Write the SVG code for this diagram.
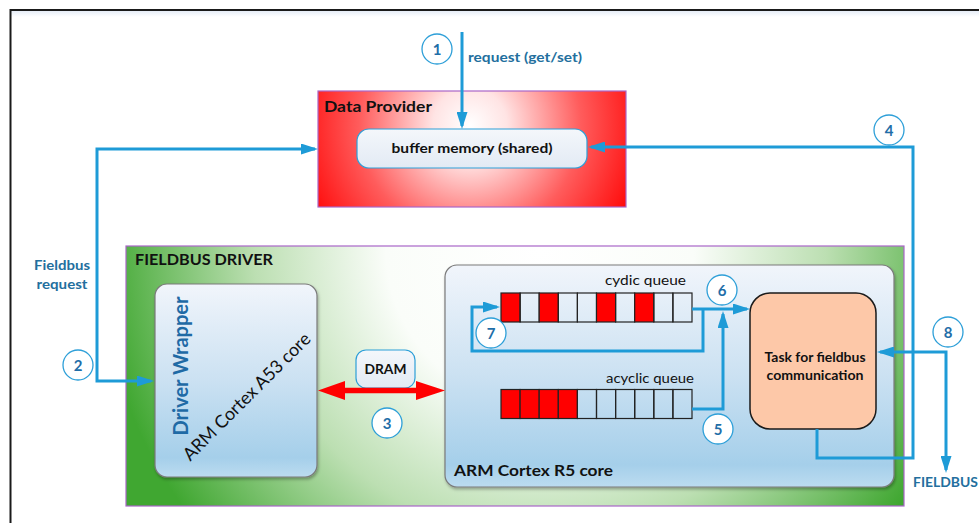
<svg xmlns="http://www.w3.org/2000/svg" width="979" height="523" viewBox="0 0 979 523">
  <defs>
    <style>
      .lbl { font-family: Lato, "Open Sans", "Liberation Sans", sans-serif; }
      .b { font-weight: bold; }
      .blk { fill: #111111; }
      .blu { fill: #236f9e; }
      .wire { fill: none; stroke: #1e9bd7; stroke-width: 3; }
      .num circle { fill: #ffffff; stroke: #2d9fd8; stroke-width: 1.3; }
      .num text { font-family: Lato, "Open Sans", "Liberation Sans", sans-serif; font-weight: bold; font-size: 15px; fill: #1f6ea8; text-anchor: middle; }
      .cell { stroke: #222222; stroke-width: 1.2; fill: none; }
      .cell.on { fill: #ff0000; }
    </style>
    <marker id="ah" viewBox="0 0 17 11" refX="14" refY="5.5" markerWidth="17" markerHeight="11" markerUnits="userSpaceOnUse" orient="auto-start-reverse">
      <path d="M0,0 L17,5.5 L0,11 z" fill="#1e9bd7"/>
    </marker>
    <radialGradient id="gProvider" gradientUnits="userSpaceOnUse" cx="470" cy="125" r="185">
      <stop offset="0" stop-color="#ffffff"/>
      <stop offset="0.2" stop-color="#ffe4e4"/>
      <stop offset="0.6" stop-color="#ff5c5c"/>
      <stop offset="1" stop-color="#ff0000"/>
    </radialGradient>
    <radialGradient id="gDriver" gradientUnits="userSpaceOnUse" cx="540" cy="250" r="440">
      <stop offset="0" stop-color="#ffffff"/>
      <stop offset="0.35" stop-color="#fafdf9"/>
      <stop offset="0.65" stop-color="#bcdfb2"/>
      <stop offset="1" stop-color="#40a731"/>
    </radialGradient>
    <linearGradient id="gCore" x1="0" y1="0" x2="0" y2="1">
      <stop offset="0" stop-color="#f1f5fb"/>
      <stop offset="0.5" stop-color="#cbe1f2"/>
      <stop offset="0.9" stop-color="#a5cfea"/>
      <stop offset="1" stop-color="#bcdcf0"/>
    </linearGradient>
    <linearGradient id="gPill" x1="0" y1="0" x2="0" y2="1">
      <stop offset="0" stop-color="#f4f7fb"/>
      <stop offset="1" stop-color="#e2eaf4"/>
    </linearGradient>
    <linearGradient id="gTopShade" x1="0" y1="0" x2="0" y2="1">
      <stop offset="0" stop-color="#e6edf7"/>
      <stop offset="1" stop-color="#ffffff"/>
    </linearGradient>
    <filter id="shadow" x="-5%" y="-5%" width="110%" height="115%">
      <feDropShadow dx="1" dy="2" stdDeviation="1.5" flood-color="#000000" flood-opacity="0.3"/>
    </filter>
  </defs>

  <!-- page -->
  <rect x="0" y="0" width="979" height="523" fill="#ffffff"/>
  <rect x="11" y="11" width="968" height="6" fill="url(#gTopShade)"/>
  <path d="M10.5,523 V10 H979" fill="none" stroke="#1a1a1a" stroke-width="2"/>

  <!-- Data Provider -->
  <g id="data-provider">
    <rect x="318" y="91" width="308" height="116" fill="url(#gProvider)" stroke="#a966c8" stroke-width="1.2"/>
    <text class="lbl b blk" x="324" y="112" font-size="15" textLength="108" lengthAdjust="spacingAndGlyphs">Data Provider</text>
  </g>
  <g id="buffer-memory">
    <rect x="357" y="129" width="230" height="39" rx="12" fill="url(#gPill)" stroke="#2d9fd8" stroke-width="1.2"/>
    <text class="lbl b blk" x="472" y="153" font-size="12.5" text-anchor="middle" textLength="161" lengthAdjust="spacingAndGlyphs">buffer memory (shared)</text>
  </g>

  <!-- Fieldbus driver container -->
  <g id="fieldbus-driver">
    <rect x="126" y="246" width="778" height="260" fill="url(#gDriver)" stroke="#a966c8" stroke-width="1.2"/>
    <text class="lbl b blk" x="135" y="265" font-size="15" textLength="138" lengthAdjust="spacingAndGlyphs">FIELDBUS DRIVER</text>
  </g>

  <g id="driver-wrapper">
    <rect x="155" y="284" width="162" height="193" rx="12" fill="url(#gCore)" stroke="#7a7a7a" stroke-width="1.2" filter="url(#shadow)"/>
    <text class="lbl b" fill="#1f6aa5" font-size="20" text-anchor="middle" transform="translate(188,366) rotate(-90)" textLength="139" lengthAdjust="spacingAndGlyphs">Driver Wrapper</text>
    <text class="lbl blk" font-size="18" text-anchor="middle" transform="translate(251,401) rotate(-45)" textLength="172" lengthAdjust="spacingAndGlyphs">ARM Cortex A53 core</text>
  </g>

  <g id="r5-core">
    <rect x="445" y="265" width="449" height="222" rx="12" fill="url(#gCore)" stroke="#7a7a7a" stroke-width="1.2" filter="url(#shadow)"/>
    <text class="lbl b blk" x="454" y="476" font-size="16" textLength="159" lengthAdjust="spacingAndGlyphs">ARM Cortex R5 core</text>
  </g>

  <g id="cyclic-queue">
    <text class="lbl blk" x="686" y="285" font-size="14" text-anchor="end" textLength="81" lengthAdjust="spacingAndGlyphs">cydic queue</text>
    <rect class="cell on" x="501" y="293" width="19.1" height="29"/>
    <rect class="cell" x="520.1" y="293" width="19.1" height="29"/>
    <rect class="cell on" x="539.2" y="293" width="19.1" height="29"/>
    <rect class="cell" x="558.3" y="293" width="19.1" height="29"/>
    <rect class="cell" x="577.4" y="293" width="19.1" height="29"/>
    <rect class="cell on" x="596.5" y="293" width="19.1" height="29"/>
    <rect class="cell" x="615.6" y="293" width="19.1" height="29"/>
    <rect class="cell on" x="634.7" y="293" width="19.1" height="29"/>
    <rect class="cell" x="653.8" y="293" width="19.1" height="29"/>
    <rect class="cell" x="672.9" y="293" width="19.1" height="29"/>
  </g>

  <g id="acyclic-queue">
    <text class="lbl blk" x="694" y="383" font-size="14" text-anchor="end" textLength="88" lengthAdjust="spacingAndGlyphs">acyclic queue</text>
    <rect class="cell on" x="501" y="389.5" width="19.1" height="29"/>
    <rect class="cell on" x="520.1" y="389.5" width="19.1" height="29"/>
    <rect class="cell on" x="539.2" y="389.5" width="19.1" height="29"/>
    <rect class="cell on" x="558.3" y="389.5" width="19.1" height="29"/>
    <rect class="cell" x="577.4" y="389.5" width="19.1" height="29"/>
    <rect class="cell" x="596.5" y="389.5" width="19.1" height="29"/>
    <rect class="cell" x="615.6" y="389.5" width="19.1" height="29"/>
    <rect class="cell" x="634.7" y="389.5" width="19.1" height="29"/>
    <rect class="cell" x="653.8" y="389.5" width="19.1" height="29"/>
    <rect class="cell" x="672.9" y="389.5" width="19.1" height="29"/>
  </g>

  <g id="fieldbus-task">
    <rect x="750" y="293" width="126" height="136" rx="20" fill="#fdc8a8" stroke="#1a1a1a" stroke-width="1.5"/>
    <text class="lbl b blk" x="815" y="362" font-size="12.5" text-anchor="middle" textLength="101" lengthAdjust="spacingAndGlyphs">Task for fieldbus</text>
    <text class="lbl b blk" x="815" y="380" font-size="12.5" text-anchor="middle" textLength="97" lengthAdjust="spacingAndGlyphs">communication</text>
  </g>

  <g id="dram">
    <rect x="356" y="350" width="59" height="38" rx="10" fill="url(#gPill)" stroke="#2d9fd8" stroke-width="1.2"/>
    <text class="lbl b blk" x="385.5" y="374" font-size="13" text-anchor="middle" textLength="42" lengthAdjust="spacingAndGlyphs">DRAM</text>
  </g>

  <!-- connectors -->
  <g id="connectors">
    <path class="wire" d="M462,32 V126" marker-end="url(#ah)"/>
    <path class="wire" d="M315,149 H97 V381 H151" marker-start="url(#ah)" marker-end="url(#ah)"/>
    <polygon points="318,390.5 345,381 345,387.7 416,387.7 416,381 445,390.5 416,400 416,393.3 345,393.3 345,400" fill="#ff0000"/>
    <path class="wire" d="M817,429 V458 H913 V147 H591" marker-end="url(#ah)"/>
    <path class="wire" d="M692,409 H723 V314" marker-end="url(#ah)"/>
    <path class="wire" d="M692,309 H747" marker-end="url(#ah)"/>
    <path class="wire" d="M703,309 V351 H472 V307 H497" marker-end="url(#ah)"/>
    <path class="wire" d="M880,352 H946 V470" marker-start="url(#ah)" marker-end="url(#ah)"/>
  </g>

  <!-- connector labels -->
  <g id="labels">
    <text class="lbl b blu" x="468" y="62" font-size="12.5" textLength="114" lengthAdjust="spacingAndGlyphs">request (get/set)</text>
    <text class="lbl b blu" x="62" y="270" font-size="12.5" text-anchor="middle" textLength="56" lengthAdjust="spacingAndGlyphs">Fieldbus</text>
    <text class="lbl b blu" x="62" y="289" font-size="12.5" text-anchor="middle" textLength="51" lengthAdjust="spacingAndGlyphs">request</text>
    <text class="lbl b blu" x="913" y="487" font-size="13" textLength="65" lengthAdjust="spacingAndGlyphs">FIELDBUS</text>
  </g>

  <!-- step markers -->
  <g id="step-1" class="num"><circle cx="437" cy="49" r="15"/><text x="437" y="54.5">1</text></g>
  <g id="step-2" class="num"><circle cx="78" cy="365" r="15"/><text x="78" y="370.5">2</text></g>
  <g id="step-3" class="num"><circle cx="387" cy="423" r="15"/><text x="387" y="428.5">3</text></g>
  <g id="step-4" class="num"><circle cx="889" cy="130" r="15"/><text x="889" y="135.5">4</text></g>
  <g id="step-5" class="num"><circle cx="718" cy="429" r="15"/><text x="718" y="434.5">5</text></g>
  <g id="step-6" class="num"><circle cx="722" cy="290" r="15"/><text x="722" y="295.5">6</text></g>
  <g id="step-7" class="num"><circle cx="491" cy="333" r="15"/><text x="491" y="338.5">7</text></g>
  <g id="step-8" class="num"><circle cx="948" cy="332" r="15"/><text x="948" y="337.5">8</text></g>
</svg>
